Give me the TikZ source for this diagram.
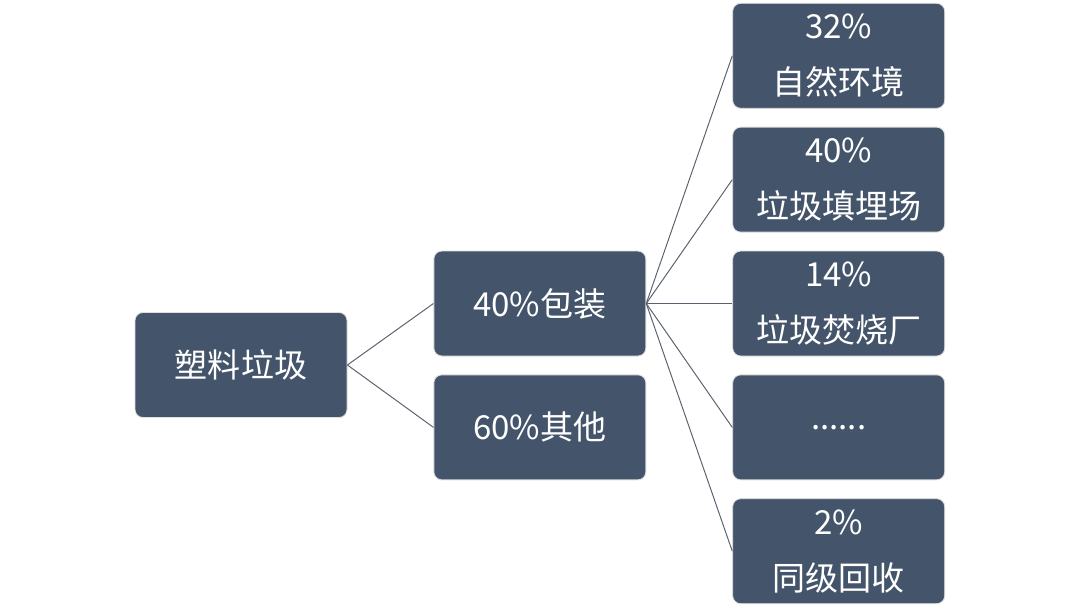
\documentclass[tikz,border=0pt]{standalone}
\usepackage{fontspec}
\setmainfont{Noto Sans CJK SC}
\usetikzlibrary{positioning}
\definecolor{boxblue}{HTML}{44546A}
\definecolor{linegray}{HTML}{5A6270}
\tikzset{
	node distance=0.45cm,
	box/.style = {rectangle, rounded corners=0.2cm, fill=boxblue, draw=gray!25,
		line width=0.6pt, minimum width=5.3cm, minimum height=2.625cm,
		text=white, align=center, font=\fontsize{23.5}{40}\selectfont},
	link/.style = {draw=linegray, line width=0.7pt}
}

\begin{document}
\begin{tikzpicture}
	\useasboundingbox (0,0) rectangle (27,-15.2);
	\node (root) [box] at (6.025,-9.125) {塑料垃圾};
	\node (pack) [box, right=2.15cm of root, yshift=1.5375cm] {40\%包装};
	\node (other) [box, below=of pack] {60\%其他};
	\node (burn) [box, right=2.15cm of pack] {14\%\\垃圾焚烧厂};
	\node (landfill) [box, above=of burn] {40\%\\垃圾填埋场};
	\node (nature) [box, above=of landfill] {32\%\\自然环境};
	\node (etc) [box, below=of burn] {......};
	\node (recycle) [box, below=of etc] {2\%\\同级回收};
	\draw [link] (root.east) -- (pack.west);
	\draw [link] (root.east) -- (other.west);
	\foreach \n in {nature,landfill,burn,etc,recycle}
		\draw [link] (pack.east) -- (\n.west);
\end{tikzpicture}
\end{document}
